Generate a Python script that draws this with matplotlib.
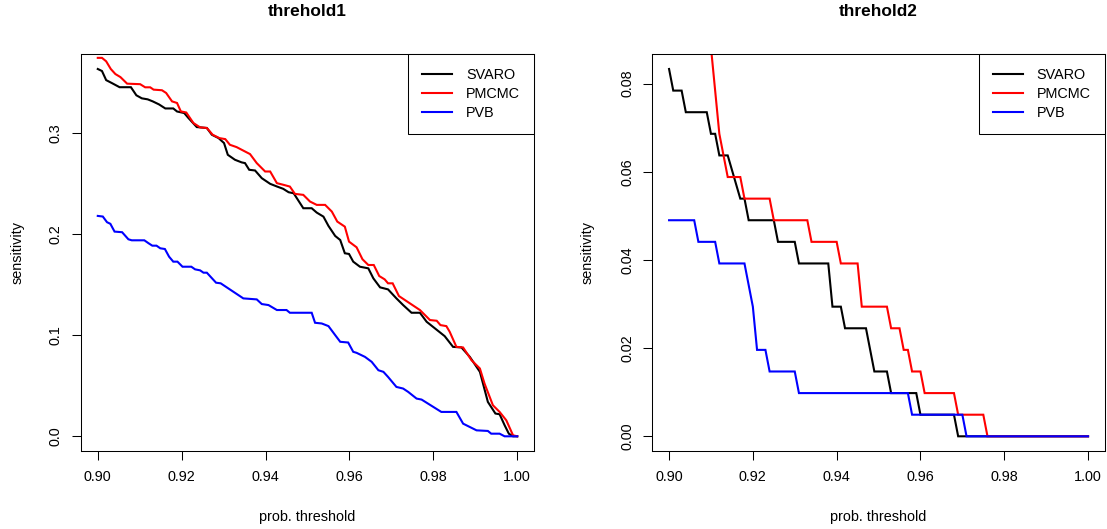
import matplotlib
matplotlib.use("Agg")
import matplotlib.pyplot as plt

plt.rcParams['font.family'] = ['Liberation Sans', 'DejaVu Sans']

# ---------------- threhold1 data ----------------
t1_svaro = [0.900, 0.901, 0.902, 0.9034, 0.9052, 0.9079, 0.9092, 0.9105, 0.9119, 0.9131,
            0.9146, 0.9161, 0.918, 0.9189, 0.9206, 0.9216, 0.9236, 0.926, 0.9272, 0.9288,
            0.9301, 0.931, 0.9327, 0.9343, 0.9351, 0.9361, 0.9375, 0.9391, 0.9411, 0.9427,
            0.9442, 0.9455, 0.9467, 0.949, 0.951, 0.9522, 0.9538, 0.955, 0.9566, 0.9578,
            0.9589, 0.9599, 0.9609, 0.9625, 0.9645, 0.9657, 0.9673, 0.9692, 0.9712, 0.9728,
            0.9748, 0.9768, 0.9784, 0.9804, 0.9827, 0.9847, 0.9867, 0.9887, 0.9911, 0.993,
            0.9948, 0.9958, 0.997, 0.998, 0.999, 1.000]
v1_svaro = [0.363, 0.361, 0.352, 0.349, 0.345, 0.345, 0.337, 0.334, 0.333, 0.331,
            0.328, 0.324, 0.324, 0.321, 0.3195, 0.3146, 0.3056, 0.3047, 0.298, 0.2947,
            0.2898, 0.2782, 0.2733, 0.2707, 0.270, 0.2634, 0.2627, 0.2551, 0.2495, 0.2469,
            0.2446, 0.2412, 0.2402, 0.2254, 0.2254, 0.2211, 0.2171, 0.2079, 0.198, 0.194,
            0.1809, 0.1802, 0.1726, 0.1676, 0.166, 0.1561, 0.1472, 0.1452, 0.1363, 0.1297,
            0.1221, 0.1221, 0.1132, 0.1066, 0.099, 0.0884, 0.0878, 0.0785, 0.0637, 0.034,
            0.0225, 0.0218, 0.0109, 0.0026, 0.0, 0.0]

t1_pmcmc = [0.900, 0.901, 0.902, 0.9031, 0.9042, 0.9054, 0.907, 0.9101, 0.9113, 0.9125,
            0.9133, 0.9153, 0.9163, 0.9177, 0.9189, 0.9198, 0.9211, 0.9228, 0.9244, 0.926,
            0.9274, 0.929, 0.9304, 0.9315, 0.9331, 0.9343, 0.9363, 0.9379, 0.9399, 0.9411,
            0.9427, 0.9443, 0.9458, 0.947, 0.949, 0.9506, 0.9522, 0.9542, 0.9558, 0.9571,
            0.9589, 0.9599, 0.9617, 0.9631, 0.9645, 0.9658, 0.9671, 0.9684, 0.9692, 0.9703,
            0.9718, 0.9768, 0.9776, 0.9792, 0.9808, 0.9817, 0.9831, 0.9839, 0.9855, 0.9871,
            0.9891, 0.9911, 0.9922, 0.9942, 0.9958, 0.9974, 0.999, 1.000]
v1_pmcmc = [0.374, 0.374, 0.3706, 0.363, 0.358, 0.355, 0.3485, 0.348, 0.3449, 0.3449,
            0.3426, 0.342, 0.3393, 0.331, 0.3294, 0.3211, 0.320, 0.3096, 0.3053, 0.3047,
            0.298, 0.2947, 0.2937, 0.2881, 0.2858, 0.2832, 0.2789, 0.270, 0.2617, 0.2617,
            0.2502, 0.2485, 0.2468, 0.2396, 0.2386, 0.232, 0.2287, 0.2287, 0.2221, 0.2122,
            0.2072, 0.1924, 0.1868, 0.175, 0.1693, 0.1693, 0.1584, 0.1551, 0.1512, 0.1512,
            0.1386, 0.1248, 0.1215, 0.1149, 0.1142, 0.1099, 0.1089, 0.1033, 0.0884, 0.0878,
            0.0752, 0.067, 0.0522, 0.0307, 0.0241, 0.0158, 0.001, 0.0]

t1_pvb = [0.900, 0.9012, 0.9022, 0.903, 0.904, 0.9058, 0.9073, 0.9081, 0.9111, 0.9121,
          0.913, 0.914, 0.9149, 0.916, 0.917, 0.918, 0.919, 0.9202, 0.9223, 0.9232,
          0.9244, 0.9252, 0.926, 0.9282, 0.9293, 0.9347, 0.9379, 0.9391, 0.9407, 0.9427,
          0.945, 0.9458, 0.951, 0.9518, 0.9534, 0.955, 0.9566, 0.9578, 0.9597, 0.9609,
          0.9617, 0.9637, 0.9653, 0.9669, 0.9681, 0.9692, 0.9712, 0.9728, 0.974, 0.976,
          0.9772, 0.9819, 0.9855, 0.9871, 0.9903, 0.993, 0.9938, 0.9958, 0.997, 1.000]
v1_pvb = [0.2178, 0.2172, 0.2116, 0.210, 0.2023, 0.2017, 0.1947, 0.1937, 0.1937, 0.1908,
          0.1884, 0.1884, 0.1858, 0.1851, 0.1775, 0.1726, 0.1726, 0.1676, 0.1676, 0.165,
          0.164, 0.1617, 0.1617, 0.1518, 0.1512, 0.1363, 0.1353, 0.1307, 0.1297, 0.1248,
          0.1248, 0.1221, 0.1221, 0.1122, 0.1115, 0.1089, 0.100, 0.0934, 0.0927, 0.0835,
          0.0825, 0.0785, 0.0736, 0.0653, 0.0637, 0.0587, 0.0488, 0.0472, 0.0439, 0.0373,
          0.0363, 0.0241, 0.0241, 0.0125, 0.0059, 0.0053, 0.0026, 0.0026, 0.0, 0.0]

# ---------------- threhold2 data ----------------
t2_svaro = [0.900, 0.901, 0.903, 0.904, 0.909, 0.910, 0.911, 0.912, 0.914, 0.917,
            0.918, 0.919, 0.925, 0.926, 0.930, 0.931, 0.938, 0.939, 0.941, 0.942,
            0.947, 0.949, 0.952, 0.953, 0.959, 0.960, 0.968, 0.969, 1.000]
v2_svaro = [0.0833, 0.0784, 0.0784, 0.0735, 0.0735, 0.0686, 0.0686, 0.0637, 0.0637, 0.0539,
            0.0539, 0.0490, 0.0490, 0.0441, 0.0441, 0.0392, 0.0392, 0.0294, 0.0294, 0.0245,
            0.0245, 0.0147, 0.0147, 0.0098, 0.0098, 0.0049, 0.0049, 0.0, 0.0]

t2_pmcmc = [0.900, 0.905, 0.909, 0.910, 0.911, 0.912, 0.914, 0.917, 0.918, 0.924,
            0.925, 0.933, 0.934, 0.940, 0.941, 0.945, 0.946, 0.952, 0.953, 0.955,
            0.956, 0.957, 0.958, 0.960, 0.961, 0.968, 0.969, 0.975, 0.976, 1.000]
v2_pmcmc = [0.1324, 0.1078, 0.0980, 0.0882, 0.0784, 0.0686, 0.0588, 0.0588, 0.0539, 0.0539,
            0.0490, 0.0490, 0.0441, 0.0441, 0.0392, 0.0392, 0.0294, 0.0294, 0.0245, 0.0245,
            0.0196, 0.0196, 0.0147, 0.0147, 0.0098, 0.0098, 0.0049, 0.0049, 0.0, 0.0]

t2_pvb = [0.900, 0.906, 0.907, 0.911, 0.912, 0.918, 0.920, 0.921, 0.923, 0.924,
          0.930, 0.931, 0.957, 0.958, 0.970, 0.971, 1.000]
v2_pvb = [0.0490, 0.0490, 0.0441, 0.0441, 0.0392, 0.0392, 0.0294, 0.0196, 0.0196, 0.0147,
          0.0147, 0.0098, 0.0098, 0.0049, 0.0049, 0.0, 0.0]

series_names = ["SVARO", "PMCMC", "PVB"]
series_colors = ["black", "red", "blue"]
titles = ["threhold1", "threhold2"]
x_ticks = [0.90, 0.92, 0.94, 0.96, 0.98, 1.00]
y_ticks1 = [0.0, 0.1, 0.2, 0.3]
y_ticks2 = [0.00, 0.02, 0.04, 0.06, 0.08]

W, H = 1107, 529
fig = plt.figure(figsize=(W / 100, H / 100), dpi=100)

FS = 10.4
panels = [
    dict(rect=(81, 54.3, 453, 396.7), title=titles[0],
         data=[(t1_svaro, v1_svaro), (t1_pmcmc, v1_pmcmc), (t1_pvb, v1_pvb)],
         yticks=y_ticks1, yfmt="{:.1f}"),
    dict(rect=(652.3, 54.3, 452.5, 396.7), title=titles[1],
         data=[(t2_svaro, v2_svaro), (t2_pmcmc, v2_pmcmc), (t2_pvb, v2_pvb)],
         yticks=y_ticks2, yfmt="{:.2f}"),
]

for p in panels:
    x0, y0, w, h = p["rect"]
    ax = fig.add_axes([x0 / W, 1 - (y0 + h) / H, w / W, h / H])
    for (t, v), name, col in zip(p["data"], series_names, series_colors):
        ax.plot(t, v, color=col, lw=1.5, label=name, solid_joinstyle='miter')
    ymax = max(p["data"][0][1])
    ax.set_ylim(-0.04 * ymax, 1.04 * ymax)
    ax.set_xlim(0.9 - 0.004, 1.0 + 0.004)
    ax.set_xticks(x_ticks)
    ax.set_xticklabels(["{:.2f}".format(v) for v in x_ticks])
    ax.set_yticks(p["yticks"])
    ax.set_yticklabels([p["yfmt"].format(v) for v in p["yticks"]], rotation=90, va='center')
    ax.tick_params(direction='out', length=6.5, width=0.75, labelsize=FS, colors='black')
    ax.tick_params(axis='x', pad=7)
    ax.tick_params(axis='y', pad=6.5)
    for s in ax.spines.values():
        s.set_linewidth(0.75)
        s.set_color('black')
    ax.set_xlabel("prob. threshold", fontsize=FS, va='center')
    ax.xaxis.set_label_coords(0.5, (451 - 517) / h)
    ax.set_ylabel("sensitivity", fontsize=FS, va='center')
    ax.yaxis.set_label_coords((18 - x0) / w if x0 < 300 else (588 - x0) / w, 0.5)
    ax.text(0.5, (451 - 12) / h, p["title"], transform=ax.transAxes, ha='center',
            va='center', fontsize=12.4, fontweight='bold')
    leg = ax.legend(loc='upper right', bbox_to_anchor=(1, 1), borderaxespad=0,
                    fancybox=False, edgecolor='black', framealpha=1, fontsize=FS,
                    handlelength=2.08, handletextpad=0.93, labelspacing=0.34,
                    borderpad=0.98)
    leg.get_frame().set_linewidth(0.75)

fig.savefig("out.png", dpi=100)
